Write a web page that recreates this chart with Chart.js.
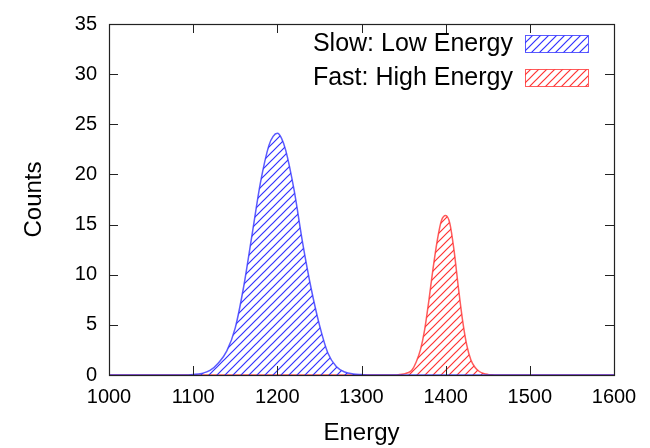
<!DOCTYPE html>
<html>
<head>
<meta charset="utf-8">
<script src="https://cdn.jsdelivr.net/npm/chart.js@4"></script>
<style>
  html, body { margin: 0; padding: 0; background: #fff; }
  #c { display: block; }
</style>
</head>
<body>
<canvas id="c" width="650" height="448"></canvas>
<script>
// ---- data ----
const blueLabel = "Slow: Low Energy";
const redLabel = "Fast: High Energy";

const blueEnergy = [1000, 1090, 1100, 1110, 1120, 1130, 1140, 1150, 1160, 1170, 1180, 1190, 1195, 1200, 1205, 1210, 1220, 1230, 1240, 1250, 1260, 1270, 1280, 1290, 1300, 1310, 1600];
const blueCounts = [0, 0, 0.05, 0.15, 0.45, 1.2, 2.4, 4.7, 8.8, 14.0, 19.2, 22.9, 23.8, 24.1, 23.6, 22.4, 18.4, 13.2, 8.7, 5.0, 2.2, 0.85, 0.3, 0.1, 0.04, 0, 0];

const redEnergy = [1000, 1340, 1345, 1350, 1355, 1360, 1365, 1370, 1375, 1380, 1385, 1390, 1395, 1400, 1405, 1410, 1415, 1420, 1425, 1430, 1435, 1440, 1445, 1450, 1455, 1460, 1600];
const redCounts = [0, 0, 0.04, 0.1, 0.22, 0.5, 1.3, 2.5, 4.5, 7.4, 10.6, 13.4, 15.4, 15.9, 15.1, 12.4, 8.8, 5.5, 3.0, 1.5, 0.75, 0.35, 0.15, 0.06, 0.02, 0, 0];

const xTicks = [1000, 1100, 1200, 1300, 1400, 1500, 1600];
const yTicks = [0, 5, 10, 15, 20, 25, 30, 35];

// ---- hatch patterns ----
function hatch(color, size) {
  const c = document.createElement('canvas');
  c.width = size; c.height = size;
  const g = c.getContext('2d');
  g.strokeStyle = color;
  g.lineWidth = 1.2;
  g.beginPath();
  g.moveTo(0, size); g.lineTo(size, 0);
  g.moveTo(-2, 2); g.lineTo(2, -2);
  g.moveTo(size - 2, size + 2); g.lineTo(size + 2, size - 2);
  g.stroke();
  return g.createPattern(c, 'repeat');
}
const ctx0 = document.getElementById('c').getContext('2d');
const bluePattern = hatch('rgb(50,50,255)', 8);
const redPattern = hatch('rgb(255,50,50)', 8);

const FONT = "'Liberation Sans', Arial, sans-serif";

const framePlugin = {
  id: 'frame',
  afterDatasetsDraw(chart) {
    const { ctx, chartArea: a, scales: { x, y } } = chart;
    ctx.save();
    ctx.strokeStyle = '#222';
    ctx.lineWidth = 1;
    const L = 9;
    ctx.beginPath();
    xTicks.forEach(v => {
      if (v === xTicks[0] || v === xTicks[xTicks.length - 1]) return;
      const px = Math.round(x.getPixelForValue(v)) + 0.5;
      ctx.moveTo(px, a.bottom); ctx.lineTo(px, a.bottom - L);
      ctx.moveTo(px, a.top); ctx.lineTo(px, a.top + L);
    });
    yTicks.forEach(v => {
      if (v === yTicks[0] || v === yTicks[yTicks.length - 1]) return;
      const py = Math.round(y.getPixelForValue(v)) + 0.5;
      ctx.moveTo(a.left, py); ctx.lineTo(a.left + L, py);
      ctx.moveTo(a.right, py); ctx.lineTo(a.right - L, py);
    });
    ctx.stroke();
    ctx.lineWidth = 1.2;
    ctx.strokeRect(Math.round(a.left) + 0.5, Math.round(a.top) + 0.5,
                   Math.round(a.right - a.left), Math.round(a.bottom - a.top));
    ctx.restore();
  },
  afterDraw(chart) {
    const { ctx } = chart;
    ctx.save();
    ctx.font = "25px " + FONT;
    ctx.textAlign = 'right';
    ctx.textBaseline = 'middle';
    const rows = chart.data.datasets;
    rows.forEach((ds, i) => {
      const cy = 44 + i * 34;
      ctx.fillStyle = '#000';
      ctx.fillText(ds.label, 513, cy);
      ctx.fillStyle = ds.backgroundColor;
      ctx.fillRect(525, cy - 8.5, 63, 17);
      ctx.strokeStyle = ds.borderColor;
      ctx.lineWidth = 1;
      ctx.strokeRect(525.5, cy - 8.5, 63, 17);
    });
    ctx.restore();
  }
};

new Chart(ctx0, {
  type: 'line',
  data: {
    datasets: [
      {
        label: blueLabel,
        data: blueEnergy.map((e, i) => ({ x: e, y: blueCounts[i] })),
        borderColor: 'rgba(50,50,255,0.8)',
        borderWidth: 1.5,
        backgroundColor: bluePattern,
        fill: 'origin',
        pointRadius: 0,
        cubicInterpolationMode: 'monotone'
      },
      {
        label: redLabel,
        data: redEnergy.map((e, i) => ({ x: e, y: redCounts[i] })),
        borderColor: 'rgba(255,50,50,0.8)',
        borderWidth: 1.5,
        backgroundColor: redPattern,
        fill: 'origin',
        pointRadius: 0,
        cubicInterpolationMode: 'monotone'
      }
    ]
  },
  options: {
    responsive: false,
    animation: false,
    devicePixelRatio: 1,
    layout: { padding: { left: 0, right: 36, top: 17, bottom: 0 } },
    plugins: { legend: { display: false }, tooltip: { enabled: false } },
    scales: {
      x: {
        type: 'linear',
        min: 1000, max: 1600,
        afterBuildTicks: s => { s.ticks = xTicks.map(v => ({ value: v })); },
        ticks: { color: '#000', font: { family: FONT, size: 20 }, padding: 10, maxRotation: 0,
                 callback: v => String(v) },
        grid: { display: false, drawTicks: false },
        border: { display: false },
        title: { display: true, text: 'Energy', color: '#000', font: { family: FONT, size: 24 }, padding: { top: 0, bottom: 0 } },
        afterFit: s => { s.height = 73; }
      },
      y: {
        type: 'linear',
        min: 0, max: 35,
        afterBuildTicks: s => { s.ticks = yTicks.map(v => ({ value: v })); },
        ticks: { color: '#000', font: { family: FONT, size: 20 }, padding: 12,
                 callback: v => String(v) },
        grid: { display: false, drawTicks: false },
        border: { display: false },
        title: { display: true, text: 'Counts', color: '#000', font: { family: FONT, size: 24 }, padding: { top: 20, bottom: 0 } },
        afterFit: s => { s.width = 109; }
      }
    }
  },
  plugins: [framePlugin]
});
</script>
</body>
</html>
